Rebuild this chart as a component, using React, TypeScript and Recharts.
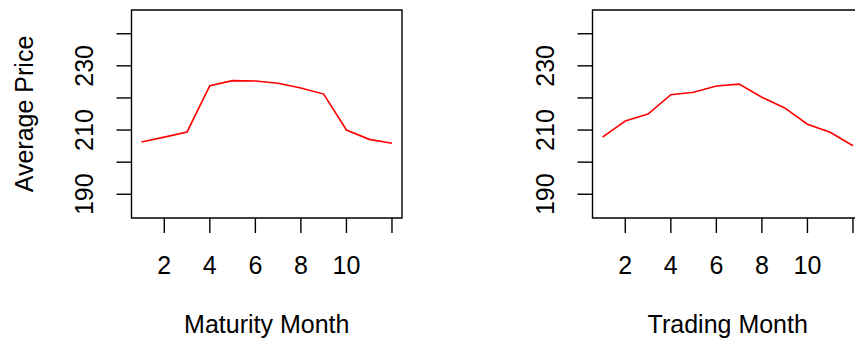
import React from "react";
import { LineChart, Line, XAxis, YAxis, ReferenceArea, Label } from "recharts";

const months = [1, 2, 3, 4, 5, 6, 7, 8, 9, 10, 11, 12];
const maturityPrice = [206.3, 207.8, 209.4, 223.8, 225.4, 225.3, 224.6, 223.1, 221.2, 210.0, 207.1, 205.9];
const tradingPrice = [207.8, 212.8, 215.0, 221.0, 221.8, 223.7, 224.3, 220.2, 216.9, 211.8, 209.3, 205.1];

const xTicks = [2, 4, 6, 8, 10, 12];
const xTickLabels = [2, 4, 6, 8, 10];
const yTicks = [190, 200, 210, 220, 230, 240];
const yTickLabels = [190, 210, 230];

const X_DOMAIN: [number, number] = [0.56, 12.44];
const Y_DOMAIN: [number, number] = [182.6, 247.4];
const FONT = "'Liberation Sans', Arial, sans-serif";
const FS = 25;

const XTick = ({ x, y, payload }: any) =>
  xTickLabels.includes(payload.value) ? (
    <text x={x} y={y + 41} textAnchor="middle" fontSize={FS} fontFamily={FONT} fill="#000">
      {payload.value}
    </text>
  ) : (
    <g />
  );

const YTick = ({ x, y, payload }: any) => {
  if (!yTickLabels.includes(payload.value)) return <g />;
  const bx = x - 23;
  return (
    <text
      x={bx}
      y={y}
      textAnchor="middle"
      transform={`rotate(-90, ${bx}, ${y})`}
      fontSize={FS}
      fontFamily={FONT}
      fill="#000"
    >
      {payload.value}
    </text>
  );
};

type PanelProps = {
  values: number[];
  xTitle: string;
  yTitle?: string;
  left: number;
};

const Panel = ({ values, xTitle, yTitle, left }: PanelProps) => {
  const data = months.map((m, i) => ({ month: m, price: values[i] }));
  return (
    <div style={{ position: "absolute", left, top: 0 }}>
      <LineChart width={430} height={344} data={data} margin={{ top: 10, right: 28, bottom: 0, left: 0 }}>
        <XAxis
          dataKey="month"
          type="number"
          domain={X_DOMAIN}
          allowDataOverflow
          ticks={xTicks}
          interval={0}
          height={126}
          tickSize={15}
          tickMargin={0}
          axisLine={false}
          tickLine={{ stroke: "#000", strokeWidth: 1.4 }}
          tick={<XTick />}
        >
          <Label
            content={({ viewBox }: any) => (
              <text
                x={viewBox.x + viewBox.width / 2}
                y={viewBox.y + 115}
                textAnchor="middle"
                fontSize={FS}
                fontFamily={FONT}
                fill="#000"
              >
                {xTitle}
              </text>
            )}
          />
        </XAxis>
        <YAxis
          type="number"
          domain={Y_DOMAIN}
          allowDataOverflow
          ticks={yTicks}
          interval={0}
          width={131.5}
          tickSize={15}
          tickMargin={0}
          axisLine={false}
          tickLine={{ stroke: "#000", strokeWidth: 1.4 }}
          tick={<YTick />}
        >
          {yTitle ? (
            <Label
              content={({ viewBox }: any) => {
                const cx = 33;
                const cy = viewBox.y + viewBox.height / 2;
                return (
                  <text
                    x={cx}
                    y={cy}
                    textAnchor="middle"
                    transform={`rotate(-90, ${cx}, ${cy})`}
                    fontSize={FS}
                    fontFamily={FONT}
                    fill="#000"
                  >
                    {yTitle}
                  </text>
                );
              }}
            />
          ) : null}
        </YAxis>
        <ReferenceArea
          x1={X_DOMAIN[0]}
          x2={X_DOMAIN[1]}
          y1={Y_DOMAIN[0]}
          y2={Y_DOMAIN[1]}
          fill="none"
          fillOpacity={0}
          stroke="#000"
          strokeWidth={1.4}
          ifOverflow="visible"
        />
        <Line
          type="linear"
          dataKey="price"
          stroke="#ff0000"
          strokeWidth={1.6}
          dot={false}
          activeDot={false}
          isAnimationActive={false}
        />
      </LineChart>
    </div>
  );
};

const App = () => (
  <div
    style={{
      position: "absolute",
      left: 0,
      top: 0,
      width: 855,
      height: 344,
      overflow: "hidden",
      background: "#fff",
    }}
  >
    <Panel values={maturityPrice} xTitle="Maturity Month" yTitle="Average Price" left={0} />
    <Panel values={tradingPrice} xTitle="Trading Month" left={461.2} />
  </div>
);

export default App;
